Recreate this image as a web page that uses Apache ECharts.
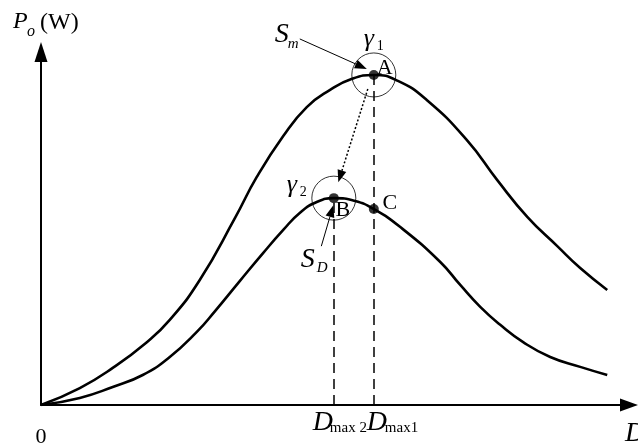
<!DOCTYPE html>
<html>
<head>
<meta charset="utf-8">
<script src="https://cdn.jsdelivr.net/npm/echarts@6/dist/echarts.min.js"></script>
<style>
  html, body { margin: 0; padding: 0; background: #fff; }
  #chart { width: 638px; height: 443px; }
</style>
</head>
<body>
<div id="chart"></div>
<script>
// Power-versus-duty curves (relative units: D 0..100, Po 0..100)
const upperCurve = [
  [0, 0], [6.6, 4.8], [12.2, 10.5], [18.0, 17.8], [21.9, 24.1], [27.0, 35.4],
  [33.0, 53.0], [36.7, 64.6], [41.2, 76.2], [45.2, 84.4], [49.1, 89.2],
  [52.9, 92.4], [56.6, 93.5], [60.7, 91.8], [65.6, 86.4], [72.4, 75.1],
  [77.6, 63.7], [82.7, 53.3], [87.8, 45.0], [91.7, 38.8], [96.3, 32.6]
];
const lowerCurve = [
  [0, 0], [6.6, 2.0], [12.2, 5.1], [17.3, 8.5], [21.9, 13.6], [26.5, 20.7],
  [29.6, 26.6], [33.8, 35.1], [37.8, 43.1], [41.2, 49.6], [44.0, 54.4],
  [46.9, 57.5], [49.8, 58.6], [53.4, 57.8], [56.6, 55.5], [61.1, 50.4],
  [67.9, 40.5], [71.3, 34.0], [74.7, 27.8], [78.1, 22.7], [82.0, 17.8],
  [86.6, 13.6], [91.7, 10.8], [96.3, 8.5]
];

// Operating points
const pointNames = ['A', 'B', 'C'];
const pointA = [56.6, 93.5];
const pointB = [49.8, 58.6];
const pointC = [56.6, 55.5];

// Axis annotations
const xTickValues = [0, pointB[0], pointA[0]];
const xTickMain = ['0', 'D', 'D'];
const xTickSub = ['', 'max 2', 'max1'];

const SERIF = '"Liberation Serif", "Times New Roman", serif';
const chart = echarts.init(document.getElementById('chart'), null, { renderer: 'canvas' });

const axisLineStyle = { color: '#000', width: 2 };

chart.setOption({
  animation: false,
  backgroundColor: '#fff',
  grid: { left: 41, right: 9, top: 52, bottom: 38 },
  xAxis: {
    type: 'value', min: 0, max: 100,
    axisLine: { show: true, onZero: false, symbol: ['none', 'triangle'], symbolSize: [13, 18], lineStyle: axisLineStyle },
    axisTick: { show: false }, axisLabel: { show: false }, splitLine: { show: false }
  },
  yAxis: {
    type: 'value', min: 0, max: 100,
    axisLine: { show: true, onZero: false, symbol: ['none', 'triangle'], symbolSize: [13, 20], lineStyle: axisLineStyle },
    axisTick: { show: false }, axisLabel: { show: false }, splitLine: { show: false }
  },
  series: [
    {
      type: 'line', data: upperCurve, smooth: 0.5, symbol: 'none',
      lineStyle: { color: '#000', width: 2.6 }, z: 3
    },
    {
      type: 'line', data: lowerCurve, smooth: 0.5, symbol: 'none',
      lineStyle: { color: '#000', width: 2.6 }, z: 3
    },
    {
      // drop lines from the maxima to the D axis
      type: 'line', data: [], symbol: 'none',
      markLine: {
        silent: true, symbol: ['none', 'none'], label: { show: false },
        lineStyle: { color: '#000', width: 1.5, type: [10, 6] },
        data: [
          [{ coord: [pointA[0], 0] }, { coord: pointA }],
          [{ coord: [pointB[0], 0] }, { coord: pointB }]
        ]
      }
    },
    {
      // search regions around the maxima
      type: 'scatter', data: [pointA, pointB], symbol: 'circle', symbolSize: 44,
      itemStyle: { color: 'rgba(0,0,0,0)', borderColor: '#000', borderWidth: 1 },
      silent: true, z: 4
    },
    {
      type: 'scatter', symbol: 'circle', symbolSize: 10,
      itemStyle: { color: '#000' }, z: 6, silent: true,
      data: [pointA, pointB, pointC]
    }
  ]
});

// Annotation layer positioned from the data points
const px = v => chart.convertToPixel({ gridIndex: 0 }, v);
const pA = px(pointA), pB = px(pointB), pC = px(pointC);

function text(str, x, y, size, italic, align) {
  return {
    type: 'text', z: 10,
    style: {
      text: str, x: x, y: y, fill: '#000',
      font: (italic ? 'italic ' : '') + size + 'px ' + SERIF,
      align: align || 'left', verticalAlign: 'middle'
    }
  };
}

function arrow(from, to, dotted) {
  const dx = to[0] - from[0], dy = to[1] - from[1];
  const len = Math.sqrt(dx * dx + dy * dy);
  const ux = dx / len, uy = dy / len;
  const headLen = 12, headHalf = 4.5;
  const bx = to[0] - ux * headLen, by = to[1] - uy * headLen;
  return [
    {
      type: 'line', z: 9,
      shape: { x1: from[0], y1: from[1], x2: bx, y2: by },
      style: { stroke: '#000', lineWidth: dotted ? 1.5 : 1, lineDash: dotted ? [2, 2] : null }
    },
    {
      type: 'polygon', z: 9,
      shape: { points: [to, [bx - uy * headHalf, by + ux * headHalf], [bx + uy * headHalf, by - ux * headHalf]] },
      style: { fill: '#000' }
    }
  ];
}

const graphics = [].concat(
  // axis titles
  text('P', 13, 22, 24, true),
  text('o', 27, 32, 16, true),
  text('(W)', 40, 23, 24, false),
  text('D', 625, 434, 28, true),
  // point names
  text(pointNames[0], pA[0] + 11, pA[1] - 7, 22, false, 'center'),
  text(pointNames[1], pB[0] + 9, pB[1] + 12, 22, false, 'center'),
  text(pointNames[2], pC[0] + 16, pC[1] - 6, 22, false, 'center'),
  // S_m pointer at A
  arrow([pA[0] - 74, pA[1] - 36], [pA[0] - 7, pA[1] - 6], false),
  text('S', pA[0] - 99, pA[1] - 40, 28, true),
  text('m', pA[0] - 86, pA[1] - 31, 15, true),
  text('\u03b3', pA[0] - 10, pA[1] - 36, 26, true),
  text('1', pA[0] + 3, pA[1] - 29, 14, false),
  // move from region A to region B
  arrow([pA[0] - 6, pA[1] + 14], [pB[0] + 4.5, pB[1] - 16], true),
  // S_D pointer at B
  arrow([pB[0] - 12.5, pB[1] + 48], [pB[0] - 0.5, pB[1] + 7], false),
  text('S', pB[0] - 33, pB[1] + 61, 28, true),
  text('D', pB[0] - 17, pB[1] + 70, 15, true),
  text('\u03b3', pB[0] - 47, pB[1] - 13, 26, true),
  text('2', pB[0] - 34, pB[1] - 6, 14, false)
);

// D-axis tick annotations
const subOffsets = [0, 17, 18];
const mainOffsets = [0, -21, -7];
xTickValues.forEach((v, i) => {
  const x = px([v, 0])[0];
  if (i === 0) {
    graphics.push(text(xTickMain[i], x, 437, 22, false, 'center'));
  } else {
    graphics.push(text(xTickMain[i], x + mainOffsets[i], 423, 28, true));
    graphics.push(text(xTickSub[i], x + mainOffsets[i] + subOffsets[i], 428, 15, false));
  }
});

chart.setOption({ graphic: graphics });
</script>
</body>
</html>
